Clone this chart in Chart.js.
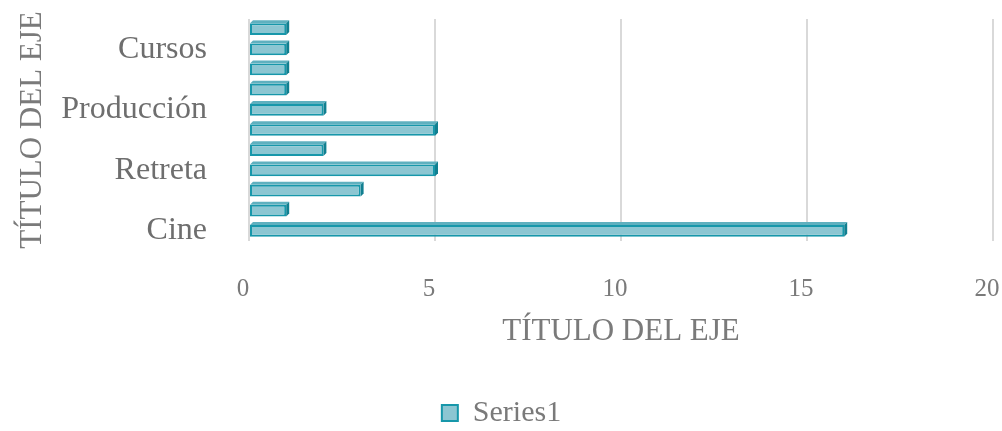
<!DOCTYPE html>
<html lang="es">
<head>
  <meta charset="UTF-8">
  <title>Series1</title>
  <script src="https://cdn.jsdelivr.net/npm/chart.js"></script>
  <style>
    html, body { margin: 0; padding: 0; background: #fff; }
    #wrap { width: 1002px; height: 431px; }
  </style>
</head>
<body>
  <div id="wrap"><canvas id="chart"></canvas></div>

  <script>
    // categories from bottom to top (only every third one is printed in the original)
    const categories = ['Cine', '', '', 'Retreta', '', '', 'Producción', '', '', 'Cursos', ''];
    const series1 = [16, 1, 3, 5, 2, 5, 2, 1, 1, 1, 1];
    const xTicks = [0, 5, 10, 15, 20];
    const axisTitle = 'TÍTULO DEL EJE';

    const fillColor = '#8cc6d2';
    const edgeColor = '#1797aa';
    const textColor = '#7a7a7a';
    const font = '"Liberation Serif", "DejaVu Serif", serif';

    // small bevel so the bars look like the 3D ones in the original
    const bevel = {
      id: 'bevel',
      afterDatasetsDraw(chart) {
        const ctx = chart.ctx;
        chart.getDatasetMeta(0).data.forEach(bar => {
          const h = bar.height;
          const top = bar.y - h / 2, bottom = bar.y + h / 2;
          const d = 3;
          ctx.save();
          ctx.fillStyle = '#5fb0bf';
          ctx.beginPath();
          ctx.moveTo(bar.base, top);
          ctx.lineTo(bar.base + d, top - d);
          ctx.lineTo(bar.x + d, top - d);
          ctx.lineTo(bar.x, top);
          ctx.closePath();
          ctx.fill();
          ctx.fillStyle = '#117f90';
          ctx.beginPath();
          ctx.moveTo(bar.x, top);
          ctx.lineTo(bar.x + d, top - d);
          ctx.lineTo(bar.x + d, bottom - d);
          ctx.lineTo(bar.x, bottom);
          ctx.closePath();
          ctx.fill();
          ctx.restore();
        });
      }
    };

    new Chart(document.getElementById('chart'), {
      type: 'bar',
      data: {
        labels: categories,
        datasets: [{
          label: 'Series1',
          data: series1,
          backgroundColor: fillColor,
          borderColor: edgeColor,
          borderWidth: 2,
          borderSkipped: false,
          categoryPercentage: 1,
          barPercentage: 0.58
        }]
      },
      options: {
        indexAxis: 'y',
        responsive: true,
        maintainAspectRatio: false,
        animation: false,
        layout: { padding: { top: 19, right: 9, left: 10, bottom: 0 } },
        scales: {
          x: {
            min: 0,
            max: 20,
            afterBuildTicks: s => { s.ticks = xTicks.map(v => ({ value: v })); },
            afterFit: s => { s.height = 155; s.paddingLeft = 0; s.paddingRight = 0; },
            grid: { color: '#d9d9d9', lineWidth: 2, drawTicks: false },
            border: { display: false },
            ticks: {
              color: textColor,
              font: { family: font, size: 25 },
              padding: 33,
              labelOffset: -6
            },
            title: {
              display: true,
              text: axisTitle,
              color: textColor,
              font: { family: font, size: 31 },
              padding: { top: 0, bottom: 46 }
            }
          },
          y: {
            reverse: true,
            afterFit: s => { s.width = 239; s.paddingTop = 0; s.paddingBottom = 0; },
            grid: { display: false },
            border: { display: false },
            ticks: {
              autoSkip: false,
              color: '#6e6e6e',
              font: { family: font, size: 32 },
              padding: 34
            },
            title: {
              display: true,
              text: axisTitle,
              color: textColor,
              font: { family: font, size: 31 },
              padding: { top: 4, bottom: 0 }
            }
          }
        },
        plugins: {
          legend: {
            position: 'bottom',
            maxHeight: 35,
            labels: {
              color: textColor,
              font: { family: font, size: 30, lineHeight: 1 },
              boxWidth: 16,
              boxHeight: 16,
              padding: 2
            }
          },
          tooltip: { enabled: false }
        }
      },
      plugins: [bevel]
    });
  </script>
</body>
</html>
